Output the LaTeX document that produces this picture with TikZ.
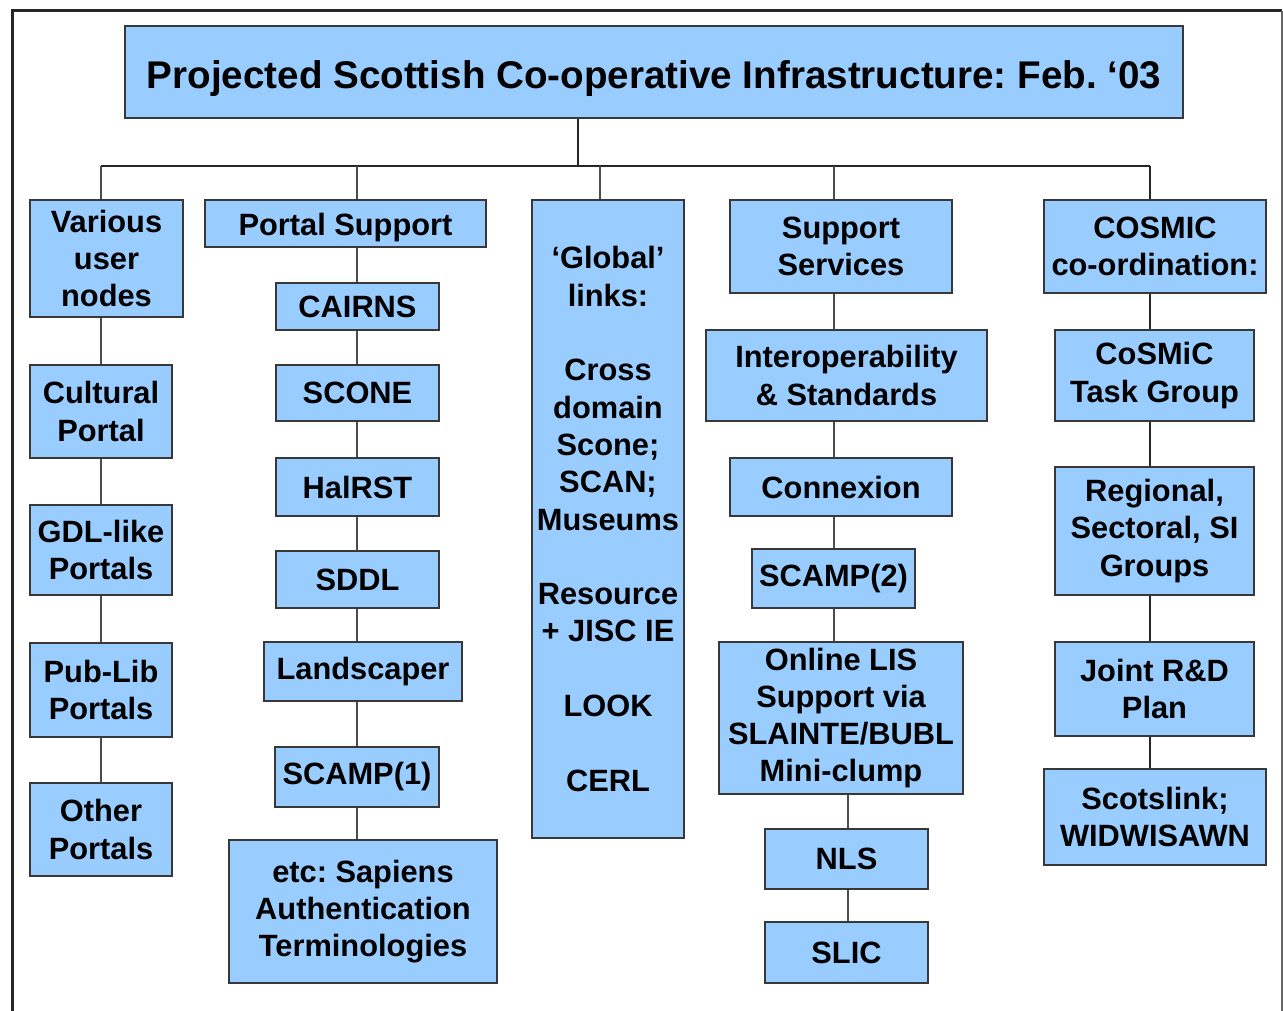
\documentclass[tikz,border=0pt]{standalone}
\usepackage{fontspec}
\setmainfont{Liberation Sans}
\frenchspacing
\begin{document}
\begin{tikzpicture}[x=1pt,y=-1pt,
  box/.style={draw=black!78, line width=1.4pt, fill=boxblue, align=center, inner sep=0pt,
    font=\fontsize{30.8}{37.3}\selectfont\bfseries},
  conn/.style={draw=black!70, line width=1.4pt},
  bus/.style={draw=black!85, line width=2.4pt}]
\definecolor{boxblue}{RGB}{153,204,255}
\useasboundingbox (0,0) rectangle (1283,1011);
\fill[white] (0,0) rectangle (1283,1011);
% frame
\draw[line width=3pt, black!85] (12,1011) -- (12,11) -- (1282,11);
\draw[line width=2pt, black!60] (1282,11) -- (1282,1011);

% title
\node[box, minimum width=1058, minimum height=92, text height=33pt, text depth=0pt, font=\fontsize{38.6}{44}\selectfont\bfseries] (title) at (654,72) {Projected Scottish Co-operative Infrastructure: Feb. ‘03};

% column 1
\node[box, minimum width=153, minimum height=117] (v1) at (106.5,258.5) {Various\\user\\nodes};
\node[box, minimum width=142, minimum height=93] (cp) at (101,411.5) {Cultural\\Portal};
\node[box, minimum width=142, minimum height=90] (gdl) at (101,550) {GDL-like\\Portals};
\node[box, minimum width=142, minimum height=94] (pub) at (101,690) {Pub-Lib\\Portals};
\node[box, minimum width=142, minimum height=93] (oth) at (101,829.5) {Other\\Portals};

% column 2
\node[box, minimum width=281, minimum height=47, text height=24pt, text depth=0pt] (ps) at (345.5,223.5) {Portal Support};
\node[box, minimum width=163, minimum height=47] (cairns) at (357.5,306.5) {CAIRNS};
\node[box, minimum width=163, minimum height=56] (scone) at (357.5,393) {SCONE};
\node[box, minimum width=163, minimum height=58] (hal) at (357.5,487) {HalRST};
\node[box, minimum width=163, minimum height=57] (sddl) at (357.5,579.5) {SDDL};
\node[box, minimum width=198, minimum height=59] (land) at (363,671.5) {Landscaper};
\node[box, minimum width=164, minimum height=60] (scamp1) at (357,777) {SCAMP(1)};
\node[box, minimum width=268, minimum height=143] (etc) at (363,911.5) {etc: Sapiens\\Authentication\\Terminologies};

% column 3
\node[box, minimum width=152, minimum height=638] (glob) at (608,519) {‘Global’\\links:\\[37.3pt]Cross\\domain\\Scone;\\SCAN;\\Museums\\[37.3pt]Resource\\+ JISC IE\\[37.3pt]LOOK\\[37.3pt]CERL};

% column 4
\node[box, minimum width=222, minimum height=93] (ss) at (841,246.5) {Support\\Services};
\node[box, minimum width=281, minimum height=91] (interop) at (846.5,375.5) {Interoperability\\\& Standards};
\node[box, minimum width=222, minimum height=58] (conx) at (841,487) {Connexion};
\node[box, minimum width=163, minimum height=59] (scamp2) at (833.5,578.5) {SCAMP(2)};
\node[box, minimum width=244, minimum height=152] (online) at (841,718) {Online LIS\\Support via\\SLAINTE/BUBL\\Mini-clump};
\node[box, minimum width=163, minimum height=60] (nls) at (846.5,859) {NLS};
\node[box, minimum width=163, minimum height=61] (slic) at (846.5,952.5) {SLIC};

% column 5
\node[box, minimum width=222, minimum height=93] (cosmic) at (1155,246.5) {COSMIC\\co-ordination:};
\node[box, minimum width=199, minimum height=91] (tg) at (1154.5,375.5) {CoSMiC\\Task Group};
\node[box, minimum width=199, minimum height=128] (reg) at (1154.5,531) {Regional,\\Sectoral, SI\\Groups};
\node[box, minimum width=199, minimum height=94] (joint) at (1154.5,689) {Joint R\&D\\Plan};
\node[box, minimum width=222, minimum height=96] (scots) at (1155,817) {Scotslink;\\WIDWISAWN};

% bus coordinates
\coordinate (tr) at (578,166);
\coordinate (b1) at (101,166);
\coordinate (b2) at (357,166);
\coordinate (b3) at (600,166);
\coordinate (b4) at (834,166);
\coordinate (b5) at (1150,166);
\coordinate (c4b) at (848,800);

% trunk and bus
\draw[bus] (title.south -| tr) -- (tr);
\draw[bus] (b1) -- (b5);
\draw[conn] (b1) -- (v1.north -| b1);
\draw[conn] (b2) -- (ps.north -| b2);
\draw[conn] (b3) -- (glob.north -| b3);
\draw[conn] (b4) -- (ss.north -| b4);
\draw[bus] (b5) -- (cosmic.north -| b5);

% column 1 links
\draw[conn] (v1.south -| b1) -- (cp.north -| b1);
\draw[conn] (cp.south -| b1) -- (gdl.north -| b1);
\draw[conn] (gdl.south -| b1) -- (pub.north -| b1);
\draw[conn] (pub.south -| b1) -- (oth.north -| b1);

% column 2 links
\draw[conn] (ps.south -| b2) -- (cairns.north -| b2);
\draw[conn] (cairns.south -| b2) -- (scone.north -| b2);
\draw[conn] (scone.south -| b2) -- (hal.north -| b2);
\draw[conn] (hal.south -| b2) -- (sddl.north -| b2);
\draw[conn] (sddl.south -| b2) -- (land.north -| b2);
\draw[conn] (land.south -| b2) -- (scamp1.north -| b2);
\draw[conn] (scamp1.south -| b2) -- (etc.north -| b2);

% column 4 links
\draw[conn] (ss.south -| b4) -- (interop.north -| b4);
\draw[conn] (interop.south -| b4) -- (conx.north -| b4);
\draw[conn] (conx.south -| b4) -- (scamp2.north -| b4);
\draw[conn] (scamp2.south -| b4) -- (online.north -| b4);
\draw[conn] (online.south -| c4b) -- (nls.north -| c4b);
\draw[conn] (nls.south -| c4b) -- (slic.north -| c4b);

% column 5 links
\draw[bus] (cosmic.south -| b5) -- (tg.north -| b5);
\draw[bus] (tg.south -| b5) -- (reg.north -| b5);
\draw[bus] (reg.south -| b5) -- (joint.north -| b5);
\draw[bus] (joint.south -| b5) -- (scots.north -| b5);
\end{tikzpicture}
\end{document}
